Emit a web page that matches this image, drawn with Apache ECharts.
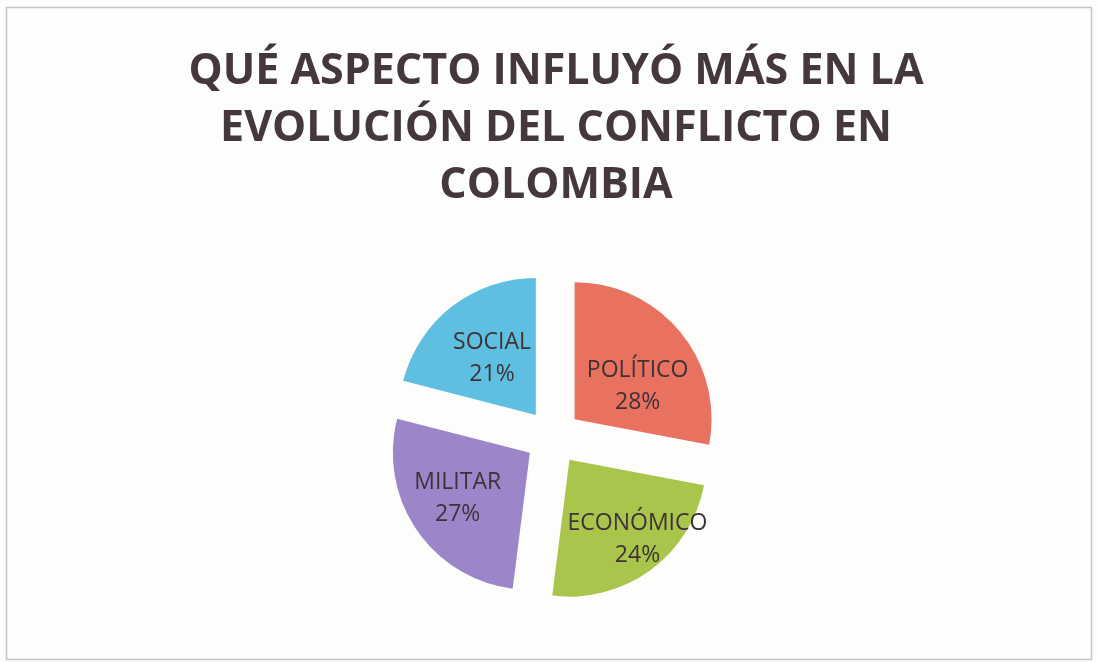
<!DOCTYPE html>
<html>
<head>
<meta charset="utf-8">
<script src="https://cdn.jsdelivr.net/npm/echarts@6/dist/echarts.min.js"></script>
<style>
  html, body { margin: 0; padding: 0; background: #fdfdfb; }
  #main { width: 1098px; height: 662px; }
</style>
</head>
<body>
<div id="main"></div>
<script>
// datos del gráfico
var aspectos = ['POLÍTICO', 'ECONÓMICO', 'MILITAR', 'SOCIAL'];
var porcentajes = [28, 24, 27, 21];
var colores = ['#e8725f', '#a9c54b', '#9d85c9', '#5ebfe0'];

// ajuste fino de la posición de las etiquetas (como en Excel)
var ajusteEtiquetas = [[8, 13], [26, 22], [-13, 6], [0, 0]];

var myChart = echarts.init(document.getElementById('main'));

var datos = aspectos.map(function (nombre, i) {
    return {
        name: nombre,
        value: porcentajes[i],
        selected: true,
        itemStyle: { color: colores[i] }
    };
});

myChart.setOption({
    backgroundColor: '#fdfdfb',
    title: {
        text: 'QUÉ ASPECTO INFLUYÓ MÁS EN LA\nEVOLUCIÓN DEL CONFLICTO EN\nCOLOMBIA',
        left: 551,
        top: 38,
        textAlign: 'center',
        textStyle: {
            fontFamily: 'Open Sans',
            fontWeight: 'bold',
            fontSize: 43,
            lineHeight: 57,
            color: '#45383b'
        }
    },
    graphic: [{
        type: 'rect',
        shape: { x: 6.5, y: 7.5, width: 1085, height: 652 },
        style: { fill: 'none', stroke: '#c4c4c4', lineWidth: 1.5 },
        silent: true
    }],
    series: [{
        type: 'pie',
        center: [553, 437],
        radius: [0, 137],
        startAngle: 90,
        clockwise: true,
        selectedMode: 'multiple',
        selectedOffset: 28,
        avoidLabelOverlap: false,
        animation: false,
        label: {
            show: true,
            position: 'inner',
            formatter: '{b}\n{d}%',
            fontFamily: 'Open Sans',
            fontSize: 23,
            lineHeight: 32,
            color: '#3e3236',
            textBorderWidth: 0
        },
        labelLayout: function (params) {
            var a = ajusteEtiquetas[params.dataIndex];
            return { dx: a[0], dy: a[1], hideOverlap: false };
        },
        labelLine: { show: false },
        emphasis: { disabled: true },
        data: datos
    }]
});
</script>
</body>
</html>
